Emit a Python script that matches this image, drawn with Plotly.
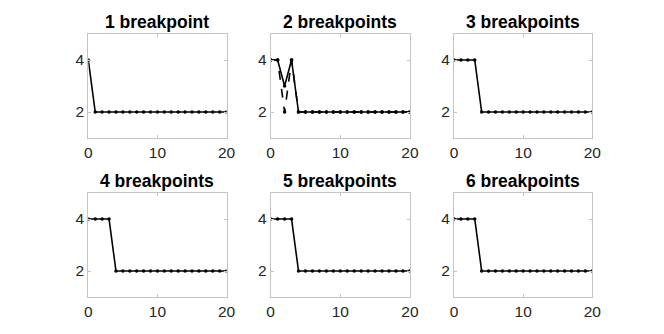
import plotly.graph_objects as go

x = list(range(21))
titles = ["1 breakpoint", "2 breakpoints", "3 breakpoints",
          "4 breakpoints", "5 breakpoints", "6 breakpoints"]
y1 = [4] + [2] * 20
y2_solid = [4, 4, 3, 4] + [2] * 17
y2_dash = [4, 4, 2, 4] + [2] * 17
y3 = [4, 4, 4, 4] + [2] * 17
y4 = [4, 4, 4, 4] + [2] * 17
y5 = [4, 4, 4, 4] + [2] * 17
y6 = [4, 4, 4, 4] + [2] * 17
xticks = [0, 10, 20]
yticks = [2, 4]

W, H = 664, 334
cols = [(86, 227), (272, 414), (459, 600)]
rows = [(34, 138), (193, 297)]

fig = go.Figure()
series = [[(y1, "solid")],
          [(y2_dash, "dash"), (y2_solid, "solid")],
          [(y3, "solid")], [(y4, "solid")], [(y5, "solid")], [(y6, "solid")]]

tickfont = dict(family="Liberation Sans, Arial", size=15.5, color="#262626")
annotations = []
for i in range(6):
    r, c = divmod(i, 3)
    n = "" if i == 0 else str(i + 1)
    x0, x1 = cols[c]
    t, b = rows[r]
    fig.update_layout(**{
        f"xaxis{n}": dict(domain=[x0 / W, x1 / W], range=[0, 20], anchor=f"y{n}",
                          tickvals=xticks, ticks="inside", ticklen=3, tickcolor="#c4c4c4",
                          showline=True, linecolor="#c4c4c4", linewidth=1, mirror="ticks",
                          showgrid=False, zeroline=False, tickfont=tickfont),
        f"yaxis{n}": dict(domain=[1 - b / H, 1 - t / H], range=[1, 5], anchor=f"x{n}",
                          tickvals=yticks, ticks="inside", ticklen=3, tickcolor="#c4c4c4",
                          showline=True, linecolor="#c4c4c4", linewidth=1, mirror="ticks",
                          showgrid=False, zeroline=False, tickfont=tickfont),
    })
    for ys, dash in series[i]:
        fig.add_trace(go.Scatter(x=x, y=ys, mode="lines+markers", xaxis=f"x{n}", yaxis=f"y{n}",
                                 line=dict(color="black", width=1.6, dash=dash),
                                 marker=dict(color="black", size=3.5),
                                 showlegend=False, hoverinfo="skip"))
    annotations.append(dict(text=f"<b>{titles[i]}</b>", x=(x0 + x1) / 2 / W, y=1 - t / H,
                            xref="paper", yref="paper", xanchor="center", yanchor="bottom",
                            showarrow=False,
                            font=dict(family="Liberation Sans, Arial", size=17.5, color="black")))

fig.update_layout(width=W, height=H, autosize=False, margin=dict(l=0, r=0, t=0, b=0),
                  paper_bgcolor="white", plot_bgcolor="white", annotations=annotations)
fig.write_html("out.html", config={"displayModeBar": False},
               post_script="document.body.style.margin='0';")
